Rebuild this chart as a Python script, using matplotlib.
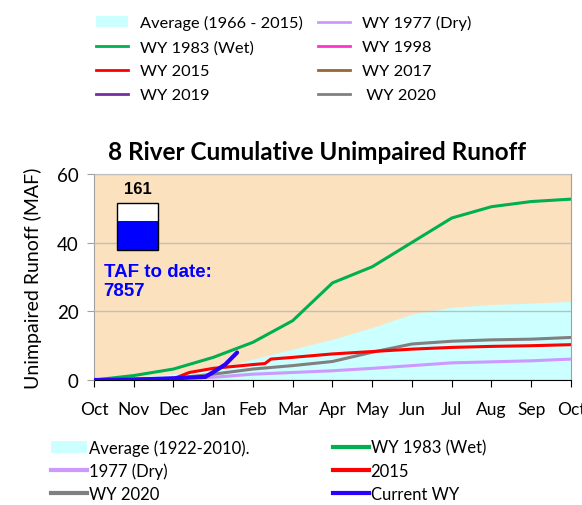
import matplotlib.pyplot as plt
from matplotlib.patches import Patch, Rectangle
from matplotlib.lines import Line2D

# months since Oct 1
months = [0, 1, 2, 3, 4, 5, 6, 7, 8, 9, 10, 11, 12]
month_labels = ['Oct', 'Nov', 'Dec', 'Jan', 'Feb', 'Mar', 'Apr', 'May', 'Jun', 'Jul', 'Aug', 'Sep', 'Oct']

avg = [0, 0.8, 1.8, 3.2, 6.1, 9.0, 11.9, 15.3, 19.2, 21.2, 22.0, 22.4, 22.9]
wy1983 = [0, 1.3, 3.2, 6.6, 11.0, 17.3, 28.3, 33.0, 40.1, 47.2, 50.5, 52.0, 52.7]
wy1977 = [0, 0.2, 0.5, 0.8, 1.7, 2.2, 2.7, 3.4, 4.2, 5.0, 5.3, 5.6, 6.1]
wy2020 = [0, 0.3, 0.5, 1.7, 3.2, 4.2, 5.4, 8.1, 10.5, 11.3, 11.7, 11.9, 12.4]

m2015 = [0, 1, 2, 2.4, 3, 4, 4.3, 4.45, 5, 6, 7, 8, 9, 10, 11, 12]
wy2015 = [0, 0.2, 0.4, 2.2, 3.4, 4.5, 4.8, 6.1, 6.6, 7.6, 8.3, 9.0, 9.5, 9.8, 10.0, 10.3]

m_cur = [0, 1, 2, 2.8, 3.0, 3.3, 3.6]
wy_cur = [0, 0.1, 0.5, 0.9, 2.3, 4.5, 8.0]

pct_avg = 161
taf_to_date = 7857

c_avg = '#CCFFFF'
c_1983 = '#00B050'
c_1977 = '#CC99FF'
c_1998 = '#FF33CC'
c_2015 = '#FF0000'
c_2017 = '#996633'
c_2019 = '#7030A0'
c_2020 = '#808080'
c_cur = '#2A00FF'

plt.rcParams['font.family'] = ['Lato', 'DejaVu Sans']

fig = plt.figure(figsize=(5.82, 5.06), dpi=100)
ax = fig.add_axes([0.1615, 0.247, 0.8196, 0.407])
ax.set_facecolor('#FCE1BF')

ax.fill_between(months, avg, 0, color=c_avg, lw=0, zorder=1)
ax.plot(months, wy1977, color=c_1977, lw=2.2, zorder=3)
ax.plot(months, wy2020, color=c_2020, lw=2.2, zorder=3)
ax.plot(m2015, wy2015, color=c_2015, lw=2.2, zorder=3)
ax.plot(months, wy1983, color=c_1983, lw=2.2, zorder=3)
ax.plot(m_cur, wy_cur, color=c_cur, lw=3, zorder=4, solid_capstyle='round')

ax.set_xlim(0, 12)
ax.set_ylim(0, 60)
ax.set_xticks(months)
ax.set_xticklabels(month_labels, fontsize=12.5)
ax.set_yticks([0, 20, 40, 60])
ax.tick_params(axis='y', labelsize=13.5, color='#A0A0A0', length=5, pad=6)
ax.tick_params(axis='x', length=5, pad=10)
ax.grid(axis='y', color='#BFBFBF', lw=1, zorder=2)
ax.set_axisbelow(False)
for s in ['left', 'top', 'right']:
    ax.spines[s].set_color('#A0A0A0')
ax.spines['bottom'].set_color('black')

ax.set_title('8 River Cumulative Unimpaired Runoff', fontsize=17.5, fontweight='bold', pad=11, x=0.467)
ax.set_ylabel('Unimpaired Runoff (MAF)', fontsize=14, labelpad=11)

# gauge inset
frac = 0.62
bx, by, bw, bh = 0.048, 0.63, 0.086, 0.23
ax.add_patch(Rectangle((bx, by), bw, bh * frac, transform=ax.transAxes,
                       facecolor='#0000FF', edgecolor='none', zorder=5))
ax.add_patch(Rectangle((bx, by + bh * frac), bw, bh * (1 - frac), transform=ax.transAxes,
                       facecolor='white', edgecolor='none', zorder=5))
ax.add_patch(Rectangle((bx, by), bw, bh, transform=ax.transAxes,
                       facecolor='none', edgecolor='black', lw=1, zorder=6))
ax.text(bx + bw / 2, 0.93, str(pct_avg), transform=ax.transAxes, ha='center', va='center',
        fontsize=12, fontweight='bold', family='Liberation Sans')
ax.text(0.02, 0.48, 'TAF to date:\n%d' % taf_to_date, transform=ax.transAxes, ha='left', va='center',
        fontsize=13.5, fontweight='bold', color='#0000FF', family='Liberation Sans', linespacing=1.2)

# top legend
top_handles = [
    Patch(facecolor=c_avg, edgecolor='none', label='Average (1966 - 2015)'),
    Line2D([], [], color=c_1983, lw=2, label='WY 1983 (Wet)'),
    Line2D([], [], color=c_2015, lw=2, label='WY 2015'),
    Line2D([], [], color=c_2019, lw=2, label='WY 2019'),
    Line2D([], [], color=c_1977, lw=2, label='WY 1977 (Dry)'),
    Line2D([], [], color=c_1998, lw=2, label='WY 1998'),
    Line2D([], [], color=c_2017, lw=2, label='WY 2017'),
    Line2D([], [], color=c_2020, lw=2, label=' WY 2020'),
]
fig.legend(handles=top_handles, ncol=2, loc='upper left', bbox_to_anchor=(0.14, 0.997),
           frameon=False, fontsize=11.8, handlelength=1.95, handletextpad=0.75,
           columnspacing=0.9, labelspacing=0.58)

# bottom legend
bot_handles = [
    Patch(facecolor=c_avg, edgecolor='none', label='Average (1922-2010).'),
    Line2D([], [], color=c_1977, lw=3, label='1977 (Dry)'),
    Line2D([], [], color=c_2020, lw=3, label='WY 2020'),
    Line2D([], [], color=c_1983, lw=3, label='WY 1983 (Wet)'),
    Line2D([], [], color=c_2015, lw=3, label='2015'),
    Line2D([], [], color=c_cur, lw=3, label='Current WY'),
]
fig.legend(handles=bot_handles, ncol=2, loc='upper left', bbox_to_anchor=(0.062, 0.16),
           frameon=False, fontsize=12, handlelength=2.15, handletextpad=0.12,
           columnspacing=5.0, labelspacing=0.42)

fig.savefig('out.png', dpi=100)
